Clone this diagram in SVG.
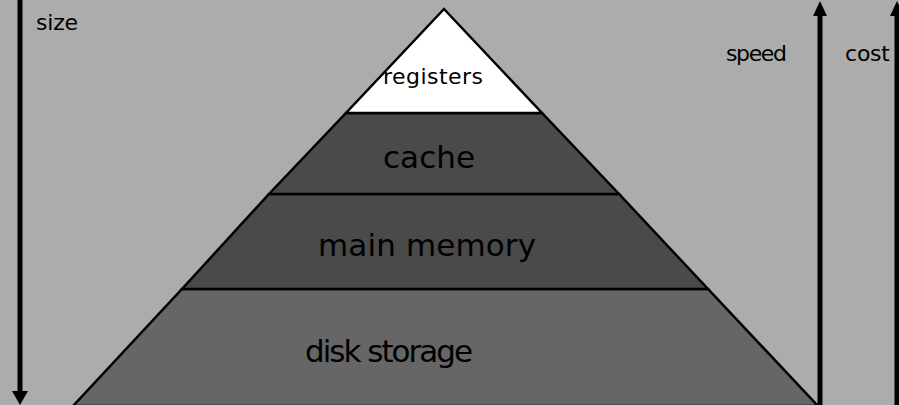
<svg xmlns="http://www.w3.org/2000/svg" width="899" height="405" viewBox="0 0 899 405">
<style>
.layer{stroke:#000;stroke-width:2.5;stroke-linejoin:miter}
.lbl{font-family:"DejaVu Sans","Liberation Sans",sans-serif;fill:#000}
.big{font-size:31px}
.small{font-size:22px}
.shaft{stroke:#000;stroke-width:5}
.head{fill:#000}
</style>
<rect x="0" y="0" width="899" height="405" fill="#acacac"/>
<g id="connectors">
  <line class="shaft" x1="20" y1="0" x2="20" y2="393"/>
  <polygon class="head" points="12,391 28,391 20,405"/>
  <line class="shaft" x1="820" y1="14" x2="820" y2="405"/>
  <polygon class="head" points="813,16 827,16 820,1"/>
  <line class="shaft" x1="897" y1="14" x2="897" y2="405"/>
  <polygon class="head" points="890,16 904,16 897,1"/>
</g>
<g id="disk">
  <polygon class="layer" points="182,289 708,289 818,406 73,406" fill="#666666"/>
  <text class="lbl big" x="305" y="362" textLength="168">disk storage</text>
</g>
<g id="main-memory">
  <polygon class="layer" points="269,194 619,194 708,289 182,289" fill="#4a4a4a"/>
  <text class="lbl big" x="318" y="256" textLength="218">main memory</text>
</g>
<g id="cache">
  <polygon class="layer" points="346,113 542,113 619,194 269,194" fill="#4a4a4a"/>
  <text class="lbl big" x="383" y="168" textLength="92">cache</text>
</g>
<g id="registers">
  <polygon class="layer" points="444,9 542,113 346,113" fill="#ffffff"/>
  <text class="lbl small" x="383" y="84" textLength="100">registers</text>
</g>
<g id="size-label"><text class="lbl small" x="36" y="30" textLength="42">size</text></g>
<g id="speed-label"><text class="lbl small" x="726" y="61" textLength="61">speed</text></g>
<g id="cost-label"><text class="lbl small" x="845" y="61" textLength="45">cost</text></g>
</svg>
